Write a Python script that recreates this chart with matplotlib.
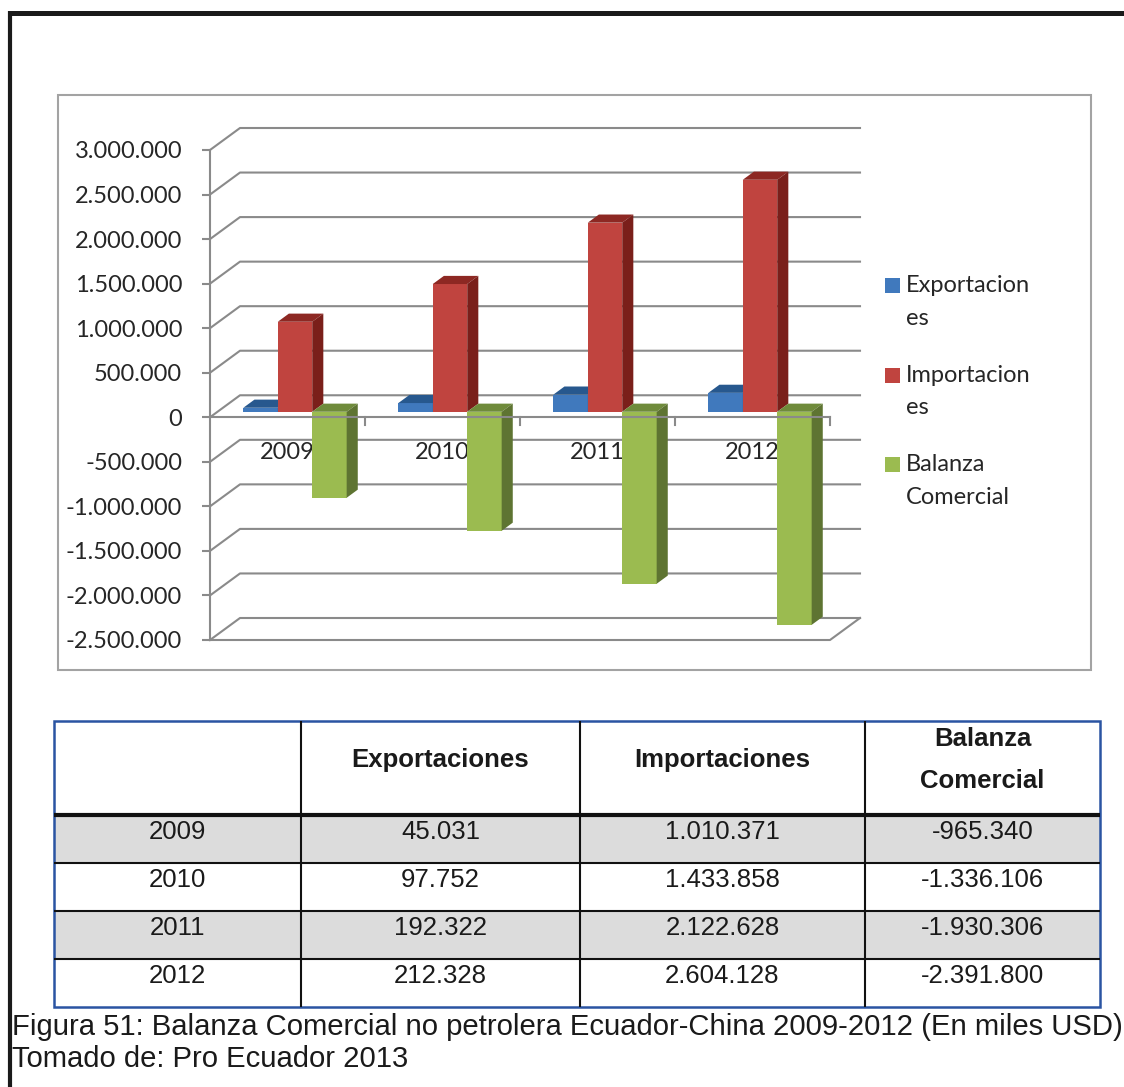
import matplotlib.pyplot as plt
from matplotlib.patches import Polygon, Rectangle
from matplotlib.ticker import FuncFormatter

plt.rcParams['font.family'] = ['Lato', 'DejaVu Sans']

# data (miles USD)
years = ["2009", "2010", "2011", "2012"]
exportaciones = [45031, 97752, 192322, 212328]
importaciones = [1010371, 1433858, 2122628, 2604128]
balanza = [-965340, -1336106, -1930306, -2391800]

series_names = ["Exportaciones", "Importaciones", "Balanza Comercial"]
legend_lines = [["Exportacion", "es"], ["Importacion", "es"], ["Balanza", "Comercial"]]
value_ticks = [-2500000, -2000000, -1500000, -1000000, -500000, 0,
               500000, 1000000, 1500000, 2000000, 2500000, 3000000]

table_header = ["", "Exportaciones", "Importaciones", "Balanza\nComercial"]
caption = ["Figura 51: Balanza Comercial no petrolera Ecuador-China 2009-2012 (En miles USD)",
           "Tomado de: Pro Ecuador 2013"]

# front / top / side colours for each series
colors = [("#4079bd", "#27588e", "#2f5f96"),
          ("#c0443f", "#8d2823", "#7a1f1a"),
          ("#9bbb50", "#6f8b3b", "#5e7432")]
grid_color = "#8a8a8a"


def fmt(v):
    return f"{int(v):,}".replace(",", ".")


W, H = 1124, 1087
fig = plt.figure(figsize=(W / 100, H / 100), dpi=100)

# page layer in pixel units
page = fig.add_axes([0, 0, 1, 1])
page.set_xlim(0, W)
page.set_ylim(H, 0)
page.axis("off")

page.plot([8, W], [13, 13], color="#1a1a1a", lw=3.6, solid_capstyle="butt")
page.plot([10, 10], [11, H], color="#1a1a1a", lw=3.0, solid_capstyle="butt")
page.add_patch(Rectangle((58, 95), 1033, 575, fc="white", ec="#a3a3a3", lw=1.5))

# legend
for k, lines in enumerate(legend_lines):
    yc = 285.5 + k * 89.5
    page.add_patch(Rectangle((885, yc - 7.5), 15, 15, fc=colors[k][0], ec="none"))
    for m, line in enumerate(lines):
        page.text(906, yc + m * 33, line, fontsize=17, va="center", ha="left", color="#262626")

# table
col_x = [54, 301, 580, 865, 1100]
row_y = [721, 815, 863, 911, 959, 1007]
table_font = ["Liberation Sans", "DejaVu Sans"]
for r in (0, 2):
    page.add_patch(Rectangle((col_x[0], row_y[r + 1]), col_x[-1] - col_x[0], row_y[r + 2] - row_y[r + 1],
                             fc="#dcdcdc", ec="none"))
for y in row_y[2:-1]:
    page.plot([col_x[0], col_x[-1]], [y, y], color="#111111", lw=1.5, solid_capstyle="butt")
page.plot([col_x[0], col_x[-1]], [row_y[1], row_y[1]], color="#111111", lw=3.0, solid_capstyle="butt")
for x in col_x[1:-1]:
    page.plot([x, x], [row_y[0], row_y[-1]], color="#111111", lw=1.5, solid_capstyle="butt")
page.add_patch(Rectangle((col_x[0], row_y[0]), col_x[-1] - col_x[0], row_y[-1] - row_y[0],
                         fc="none", ec="#2a54a2", lw=1.8))

centers = [(col_x[c] + col_x[c + 1]) / 2 for c in range(4)]
for c, head in enumerate(table_header):
    page.text(centers[c], (row_y[0] + row_y[1]) / 2 - 8, head, ha="center", va="center",
              fontsize=18.5, fontweight="bold", family=table_font, linespacing=2.0, color="#1a1a1a")
for r, year in enumerate(years):
    cells = [year, fmt(exportaciones[r]), fmt(importaciones[r]), fmt(balanza[r])]
    yc = (row_y[r + 1] + row_y[r + 2]) / 2 - 7
    for c, txt in enumerate(cells):
        page.text(centers[c], yc, txt, ha="center", va="center", fontsize=18.5,
                  family=table_font, color="#1a1a1a")

page.text(12, 1035, caption[0], fontsize=21.1, family=table_font, va="baseline", color="#1a1a1a")
page.text(12, 1067, caption[1], fontsize=21.1, family=table_font, va="baseline", color="#1a1a1a")

# chart: front plane of the 3D column chart
ax = fig.add_axes([210 / W, 1 - 640 / H, 620 / W, 490 / H])
ax.set_xlim(0, len(years))
ax.set_ylim(value_ticks[0], value_ticks[-1])
ax.patch.set_visible(False)
for s in ("top", "right", "bottom"):
    ax.spines[s].set_visible(False)
ax.spines["left"].set_color(grid_color)
ax.spines["left"].set_linewidth(1.5)
ax.set_xticks([])
ax.set_yticks(value_ticks)
ax.yaxis.set_major_formatter(FuncFormatter(lambda v, p: fmt(v)))
ax.tick_params(axis="y", length=6, width=1.5, color=grid_color, pad=14,
               labelsize=17, labelcolor="#262626")

# depth of the walls in data units
px0 = ax.transData.transform((0, 0))
px1 = ax.transData.transform((1, 1))
sx, sy = px1[0] - px0[0], px1[1] - px0[1]
dx, dy = 30 / sx, 22 / sy
n = len(years)
ymin = value_ticks[0]

# back wall gridlines with the left wall diagonals
for v in value_ticks:
    ax.plot([0, dx, n + dx], [v, v + dy, v + dy], color=grid_color, lw=1.5,
            clip_on=False, zorder=1)
# floor front edge
ax.plot([0, n, n + dx], [ymin, ymin, ymin + dy], color=grid_color, lw=1.5, clip_on=False, zorder=1)

# category axis at zero
ax.plot([0, n], [0, 0], color=grid_color, lw=1.5, clip_on=False, zorder=4)
for i in range(1, n + 1):
    ax.plot([i, i], [0, -8 / sy], color=grid_color, lw=1.5, clip_on=False, zorder=4)
for i, year in enumerate(years):
    ax.annotate(year, (i + 0.5, 0), xytext=(0, -35), textcoords="offset pixels",
                ha="center", va="center", fontsize=17, color="#262626", zorder=2)

# 3D bars
series = [exportaciones, importaciones, balanza]
w = 1 / 4.5
f0, f1 = 0.25, 0.62
bdx, bdy = (f1 - f0) * dx, (f1 - f0) * dy
for i in range(n):
    for j, vals in enumerate(series):
        front_c, top_c, side_c = colors[j]
        xl = i + (1 - 3 * w) / 2 + j * w + f0 * dx
        lo, hi = sorted((0, vals[i]))
        lo += f0 * dy
        hi += f0 * dy
        ax.add_patch(Rectangle((xl, lo), w, hi - lo, fc=front_c, ec="none",
                               clip_on=False, zorder=3))
        ax.add_patch(Polygon([(xl, hi), (xl + w, hi), (xl + w + bdx, hi + bdy), (xl + bdx, hi + bdy)],
                             closed=True, fc=top_c, ec="none", clip_on=False, zorder=3))
        ax.add_patch(Polygon([(xl + w, lo), (xl + w + bdx, lo + bdy), (xl + w + bdx, hi + bdy), (xl + w, hi)],
                             closed=True, fc=side_c, ec="none", clip_on=False, zorder=3))

fig.savefig("out.png", dpi=100)
